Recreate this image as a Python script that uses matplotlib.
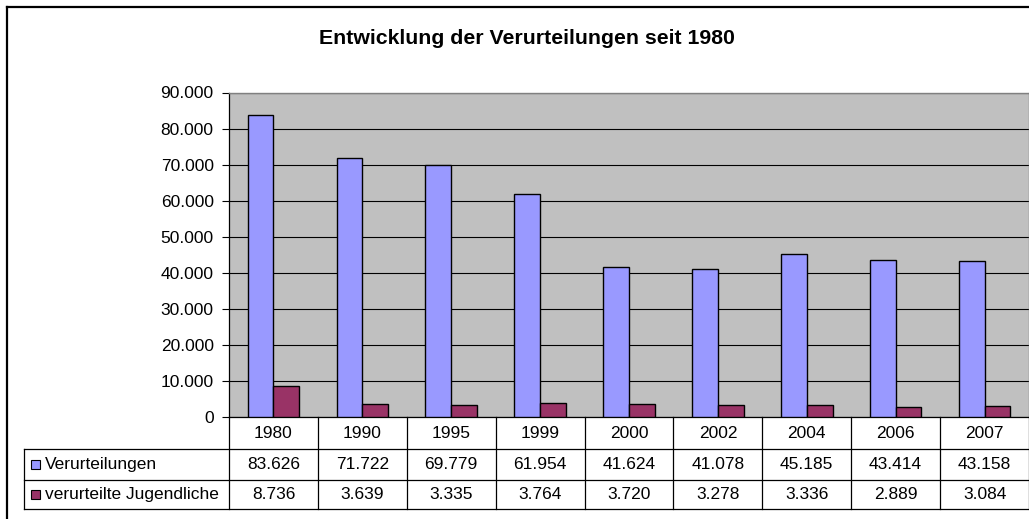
import matplotlib
matplotlib.use("Agg")
import matplotlib.pyplot as plt
from matplotlib.ticker import FuncFormatter, MultipleLocator
from matplotlib.lines import Line2D
from matplotlib.patches import Rectangle

plt.rcParams['font.family'] = ['Liberation Sans', 'DejaVu Sans']

title = "Entwicklung der Verurteilungen seit 1980"
years = ["1980", "1990", "1995", "1999", "2000", "2002", "2004", "2006", "2007"]
verurteilungen = [83626, 71722, 69779, 61954, 41624, 41078, 45185, 43414, 43158]
jugendliche = [8736, 3639, 3335, 3764, 3720, 3278, 3336, 2889, 3084]
series_names = ["Verurteilungen", "verurteilte Jugendliche"]
colors = ["#9999FF", "#993366"]

W, H = 1029, 519
fig = plt.figure(figsize=(W / 100, H / 100), dpi=100)

def fx(px):
    return px / W

def fy(py):
    return 1 - py / H

# plot area
pl, pr, pt, pb = 229, 1029, 92.5, 417
ax = fig.add_axes([fx(pl), fy(pb), fx(pr) - fx(pl), fy(pt) - fy(pb)])
ax.set_facecolor("#C0C0C0")
n = len(years)
x = list(range(n))
bw = 0.29
ax.bar([i - bw / 2 for i in x], verurteilungen, width=bw, color=colors[0],
       edgecolor="black", linewidth=1.0, zorder=3)
ax.bar([i + bw / 2 for i in x], jugendliche, width=bw, color=colors[1],
       edgecolor="black", linewidth=1.0, zorder=3)
ax.set_xlim(-0.5, n - 0.5)
ax.set_ylim(0, 90000)
ax.yaxis.set_major_locator(MultipleLocator(10000))
ax.yaxis.set_major_formatter(FuncFormatter(lambda v, p: f"{int(v):,}".replace(",", ".")))
ax.grid(axis="y", color="black", linewidth=0.8, zorder=1)
ax.set_xticks([])
ax.tick_params(axis="y", length=5, width=0.8, pad=6, labelsize=12.5, direction="out")
for s in ["top", "right"]:
    ax.spines[s].set_color("#808080")
    ax.spines[s].set_linewidth(1.0)
ax.spines["left"].set_color("black")
ax.spines["bottom"].set_color("black")
ax.spines["left"].set_linewidth(0.9)
ax.spines["bottom"].set_linewidth(0.9)

# table area (in pixel-like units, y measured from table bottom)
tb = 509
tax = fig.add_axes([fx(pl), fy(tb), fx(pr) - fx(pl), fy(pb) - fy(tb)])
tax.set_xlim(-0.5, n - 0.5)
tax.set_ylim(0, tb - pb)
tax.axis("off")
row_bounds = [0, 29, 60, tb - pb]  # bottom, between rows, header bottom, top
colw = (pr - pl) / n
label_left = -0.5 - (pl - 24) / colw
lc = "black"
lw = 0.9
# horizontal lines
for yb in row_bounds[:3]:
    tax.add_line(Line2D([label_left, n - 0.5], [yb, yb], color=lc, lw=lw, clip_on=False))
# vertical lines
for i in range(n + 1):
    tax.add_line(Line2D([i - 0.5, i - 0.5], [0, row_bounds[3]], color=lc, lw=lw, clip_on=False))
tax.add_line(Line2D([label_left, label_left], [0, row_bounds[2]], color=lc, lw=lw, clip_on=False))

fs = 12.5
hc = (row_bounds[2] + row_bounds[3]) / 2
r1 = (row_bounds[1] + row_bounds[2]) / 2
r2 = (row_bounds[0] + row_bounds[1]) / 2
for i in range(n):
    tax.text(i, hc, years[i], ha="center", va="center", fontsize=fs, clip_on=False)
    tax.text(i, r1, f"{verurteilungen[i]:,}".replace(",", "."), ha="center", va="center", fontsize=fs)
    tax.text(i, r2, f"{jugendliche[i]:,}".replace(",", "."), ha="center", va="center", fontsize=fs)

sq = 9
for name, col, yc in zip(series_names, colors, [r1, r2]):
    ypix = tb - yc
    fig.patches.append(Rectangle((fx(31), fy(ypix + sq / 2)), fx(sq), sq / H,
                                 facecolor=col, edgecolor="black", linewidth=0.8,
                                 transform=fig.transFigure, figure=fig))
    fig.text(fx(45), fy(ypix), name, ha="left", va="center", fontsize=fs)

# title
fig.text(fx(527), fy(38), title, ha="center", va="center", fontsize=15.3, fontweight="bold")

# outer border
fig.add_artist(Line2D([fx(7), fx(7)], [fy(7), 0], color="black", lw=1.6, transform=fig.transFigure))
fig.add_artist(Line2D([fx(7), 1], [fy(7), fy(7)], color="black", lw=1.6, transform=fig.transFigure))

fig.savefig("out.png", dpi=100)
